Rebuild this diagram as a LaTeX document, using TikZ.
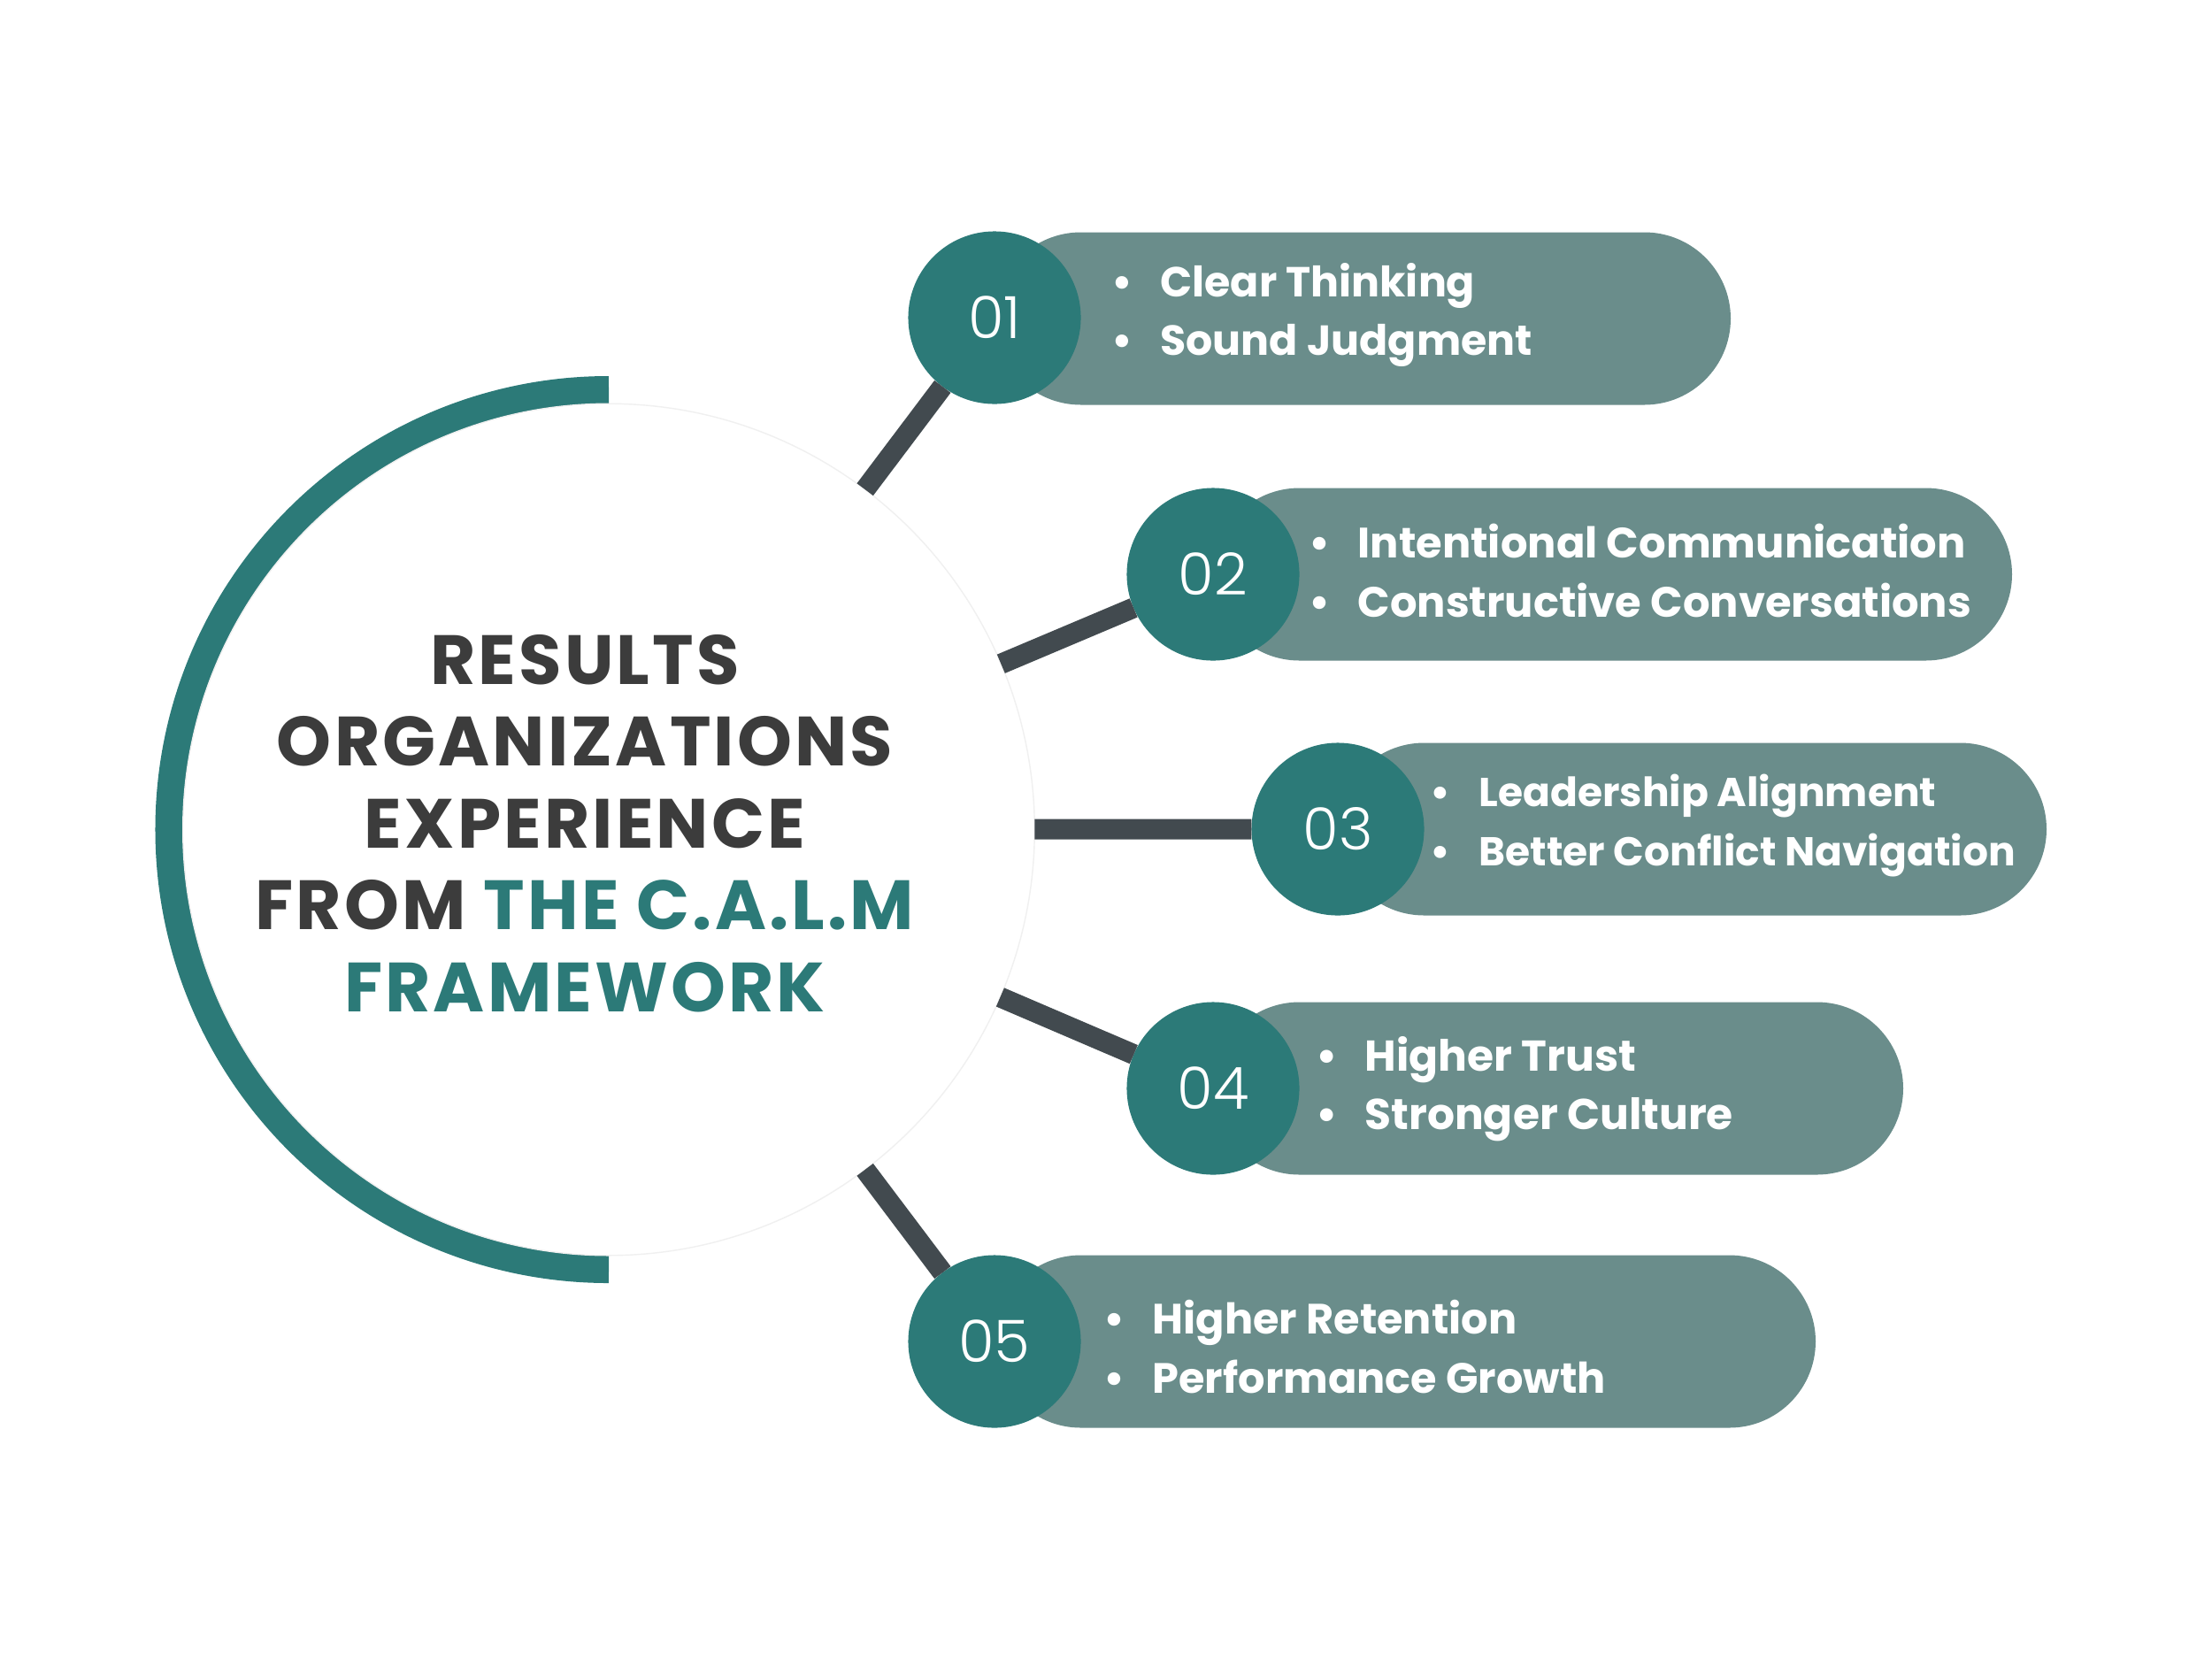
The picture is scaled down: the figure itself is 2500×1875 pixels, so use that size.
\documentclass[tikz,border=0pt]{standalone}
\usepackage{fontspec}
\setmainfont{Poppins}
\newfontfamily\poplight{Poppins Light}
\newfontfamily\poptitle{Poppins}[LetterSpace=4]
\definecolor{tealc}{HTML}{2C7A78}
\definecolor{pillc}{HTML}{6A8D8B}
\definecolor{connc}{HTML}{424A4F}
\definecolor{titlec}{HTML}{3C3C3C}
\begin{document}
\begin{tikzpicture}[x=0.01cm,y=-0.01cm,
  arcst/.style={draw=tealc,line width=0.31cm},
  conn/.style={draw=connc,line width=0.23cm},
  bigc/.style={circle,fill=white,draw=black!6,line width=0.4pt,minimum size=9.62cm,inner sep=0,outer sep=0},
  numc/.style={circle,fill=tealc,minimum size=1.95cm,inner sep=0,outer sep=0,text=white,font=\poplight\fontsize{18.7}{20}\selectfont},
  pill/.style={fill=pillc,rounded corners=0.975cm},
  item/.style={anchor=west,text=white,align=left,inner sep=0},
  title/.style={align=center,inner sep=0,text=titlec,font=\poptitle\bfseries\fontsize{22.4}{26.3}\selectfont}]
\useasboundingbox (0,0) rectangle (2500,1875);
\fill[white] (0,0) rectangle (2500,1875);
% outer arc
\draw[arcst] (688,440.5) arc[start angle=270,end angle=90,radius=497];
\node[bigc] (big) at (688,937.5) {};
% pills
\fill[pill] (1124,262.5) rectangle (1956,457.5);
\fill[pill] (1371,551.5) rectangle (2274,746.5);
\fill[pill] (1512,839.5) rectangle (2313,1034.5);
\fill[pill] (1371,1132.5) rectangle (2151,1327.5);
\fill[pill] (1124,1418.5) rectangle (2052,1613.5);
\node[numc] (n1) at (1124,359) {01};
\node[numc] (n2) at (1371,649) {02};
\node[numc] (n3) at (1512,937) {03};
\node[numc] (n4) at (1371,1230) {04};
\node[numc] (n5) at (1124,1516) {05};
% connectors
\draw[conn] (big) -- (n1);
\draw[conn] (big) -- (n2);
\draw[conn] (big) -- (n3);
\draw[conn] (big) -- (n4);
\draw[conn] (big) -- (n5);
% items
\newcommand{\bul}{\makebox[15.6pt][l]{•}}
\newcommand{\isz}[1]{\bfseries\fontsize{#1}{18.8}\selectfont}
\node[item,font=\isz{13.5}] (t1) at (1256,356) {\bul Clear Thinking\\\bul Sound Judgment};
\node[item,font=\isz{13.65}] (t2) at (1479,645) {\bul Intentional Communication\\\bul Constructive Conversations};
\node[item,font=\isz{12.95}] (t3) at (1616,933) {\bul Leadership Alignment\\\bul Better Conflict Navigation};
\node[item,font=\isz{13.85}] (t4) at (1487,1231) {\bul Higher Trust\\\bul Stronger Culture};
\node[item,font=\isz{13.6}] (t5) at (1247,1522) {\bul Higher Retention\\\bul Performance Growth};
% title
\node[title] (ttl) at (661,930.5) {RESULTS\\ORGANIZATIONS\\EXPERIENCE\\FROM \textcolor{tealc}{THE C.A.L.M}\\\textcolor{tealc}{FRAMEWORK}};
\end{tikzpicture}
\end{document}
